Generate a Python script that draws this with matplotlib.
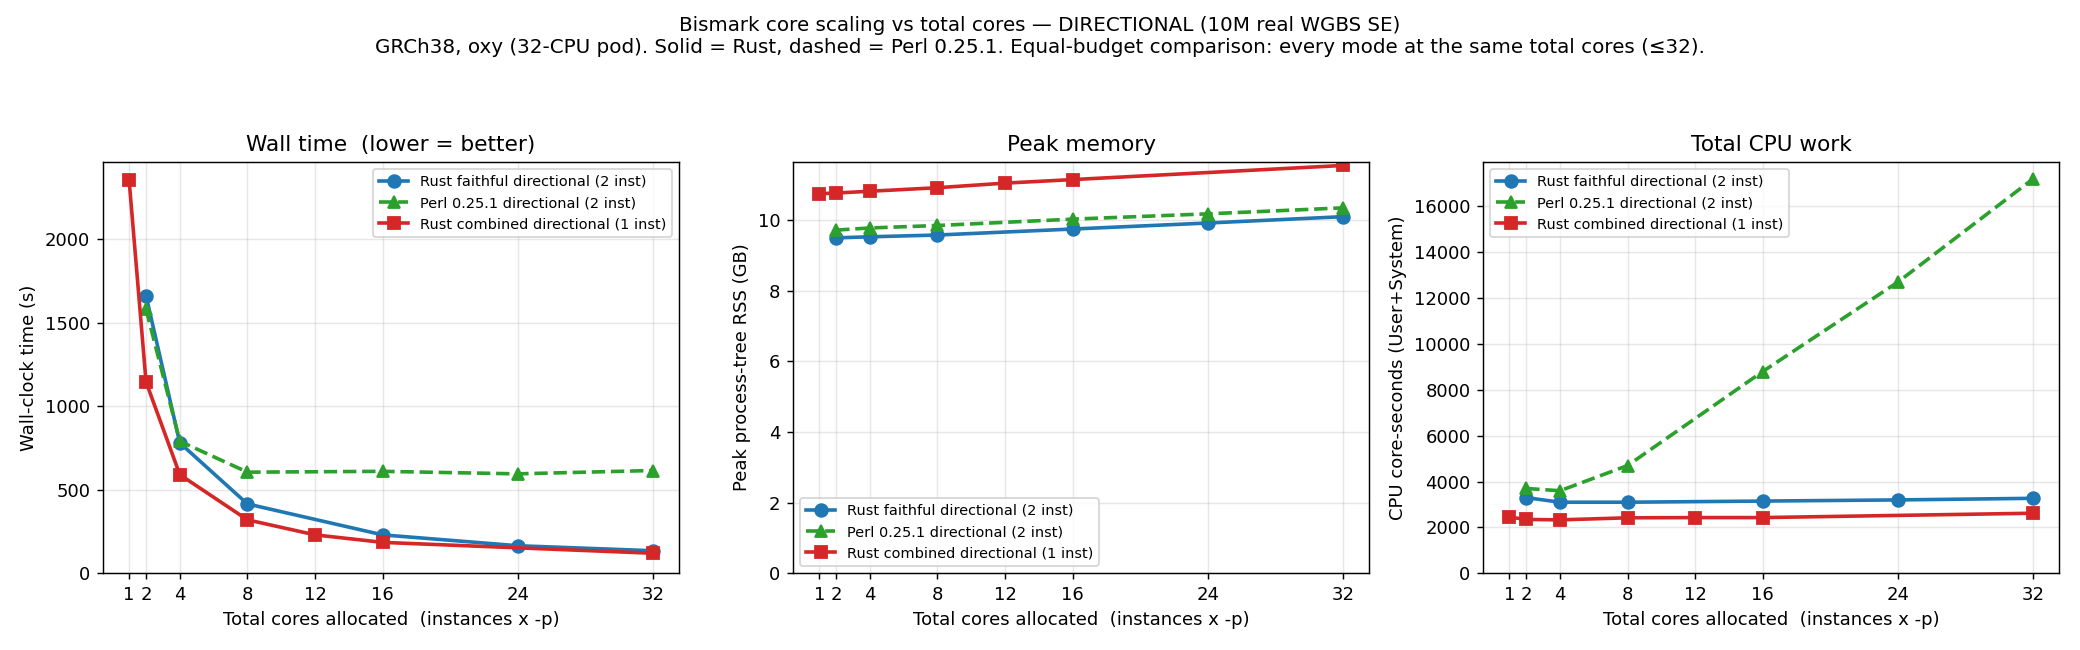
import matplotlib
matplotlib.use("Agg")
import matplotlib.pyplot as plt

xticks = [1, 2, 4, 8, 12, 16, 24, 32]

faithful_x = [2, 4, 8, 16, 24, 32]
faithful_wall = [1660, 780, 415, 230, 165, 135]
faithful_mem = [9.50, 9.53, 9.58, 9.75, 9.92, 10.10]
faithful_cpu = [3300, 3100, 3100, 3150, 3200, 3270]

perl_x = [2, 4, 8, 16, 24, 32]
perl_wall = [1580, 790, 605, 610, 595, 615]
perl_mem = [9.72, 9.78, 9.85, 10.03, 10.18, 10.35]
perl_cpu = [3700, 3600, 4700, 8800, 12700, 17200]

comb_x = [1, 2, 4, 8, 12, 16, 32]
comb_wall = [2350, 1145, 590, 320, 230, 185, 120]
comb_mem = [10.75, 10.77, 10.82, 10.92, 11.05, 11.15, 11.55]
comb_cpu = [2450, 2350, 2330, 2420, 2430, 2430, 2620]

labels = ["Rust faithful directional (2 inst)",
          "Perl 0.25.1 directional (2 inst)",
          "Rust combined directional (1 inst)"]

fig, axes = plt.subplots(1, 3, figsize=(16, 5), dpi=130)
fig.subplots_adjust(left=0.0495, right=0.99, top=0.751, bottom=0.118, wspace=0.198)

panels = [
    (faithful_wall, perl_wall, comb_wall, "Wall time  (lower = better)", "Wall-clock time (s)", "upper right"),
    (faithful_mem, perl_mem, comb_mem, "Peak memory", "Peak process-tree RSS (GB)", "lower left"),
    (faithful_cpu, perl_cpu, comb_cpu, "Total CPU work", "CPU core-seconds (User+System)", "upper left"),
]

for ax, (fy, py, cy, title, ylabel, loc) in zip(axes, panels):
    ax.plot(faithful_x, fy, "-o", color="#1f77b4", lw=2, ms=7, label=labels[0])
    ax.plot(perl_x, py, "--^", color="#2ca02c", lw=2, ms=7, label=labels[1])
    ax.plot(comb_x, cy, "-s", color="#d62728", lw=2, ms=7, label=labels[2])
    ax.set_title(title, fontsize=12)
    ax.set_ylabel(ylabel)
    ax.set_xlabel("Total cores allocated  (instances x -p)")
    ax.set_xticks(xticks)
    ax.set_ylim(bottom=0)
    ax.grid(True, alpha=0.3)
    ax.legend(loc=loc, fontsize=8)

fig.suptitle("Bismark core scaling vs total cores — DIRECTIONAL (10M real WGBS SE)\n"
             "GRCh38, oxy (32-CPU pod). Solid = Rust, dashed = Perl 0.25.1. Equal-budget comparison: every mode at the same total cores (≤32).",
             fontsize=11, y=0.975)

fig.savefig("out.png", dpi=130)
